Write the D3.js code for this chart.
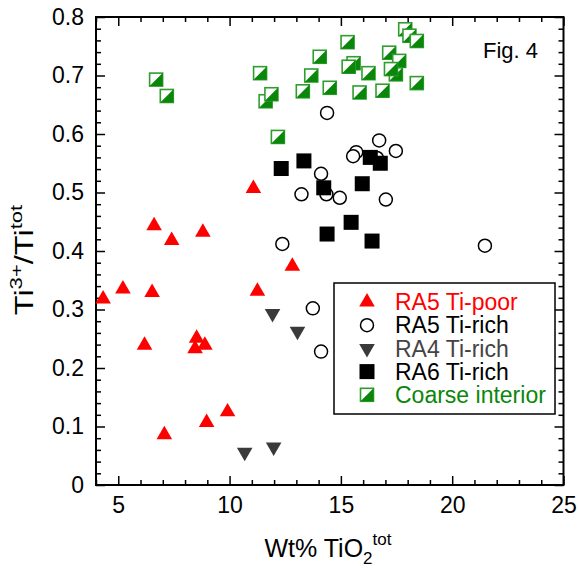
<!DOCTYPE html>
<html>
<head>
<meta charset="utf-8">
<script src="https://cdn.jsdelivr.net/npm/d3@7"></script>
<style>
  body { margin: 0; background: #fff; }
  svg text { font-family: "Liberation Sans", Arial, Helvetica, sans-serif; }
</style>
</head>
<body>
<svg width="578" height="570"></svg>
<script>
// data: [TiO2 wt%, Ti3+/Ti]
var ra5Poor = [[4.32,0.318],[5.21,0.335],[6.61,0.443],[7.40,0.418],[8.80,0.432],[11.07,0.507],
  [6.52,0.329],[11.25,0.331],[12.82,0.374],[6.18,0.239],[8.52,0.251],[8.45,0.233],[8.89,0.239],
  [7.07,0.086],[8.97,0.107],[9.91,0.125]];
var ra5Rich = [[14.38,0.636],[16.72,0.589],[17.47,0.571],[15.69,0.569],[15.55,0.562],[16.62,0.559],
  [14.11,0.532],[13.23,0.497],[14.35,0.497],[14.95,0.491],[17.02,0.488],[12.37,0.412],
  [21.47,0.409],[13.74,0.302],[14.11,0.228]];
var ra4Rich = [[10.68,0.056],[11.98,0.065],[11.93,0.293],[13.05,0.263]];
var ra6Rich = [[12.32,0.541],[13.34,0.554],[16.32,0.560],[16.77,0.550],[14.23,0.508],[15.96,0.515],
  [15.46,0.449],[14.38,0.429],[16.40,0.417]];
var coarse = [[6.70,0.693],[7.18,0.665],[11.37,0.704],[11.62,0.656],[11.88,0.668],[12.17,0.595],
  [13.29,0.673],[13.67,0.700],[14.05,0.732],[14.50,0.679],[15.30,0.757],[15.57,0.721],[15.35,0.715],
  [16.24,0.704],[15.84,0.671],[16.87,0.674],[17.17,0.739],[17.62,0.725],[17.47,0.702],[17.25,0.711],
  [17.89,0.779],[18.08,0.768],[18.41,0.759],[18.41,0.687]];

var xMajor = [5, 10, 15, 20, 25];
var yMajor = [0, 0.1, 0.2, 0.3, 0.4, 0.5, 0.6, 0.7, 0.8];
var legendLabels = ["RA5 Ti-poor", "RA5 Ti-rich", "RA4 Ti-rich", "RA6 Ti-rich", "Coarse interior"];

var red = "#ff0000", grey = "#3a3a3a", green = "#0a870a", greenEdge = "#2f9e2f";
var legendColors = [red, "#000", "#444", "#000", green];

// frame edges (top is reserved in browsers, so use pTop etc)
var pLeft = 96, pRight = 563.5, pTop = 17, pBottom = 485;

var svg = d3.select("svg");

var x = d3.scaleLinear().domain([4, 25]).range([pLeft, pRight]);
var y = d3.scaleLinear().domain([0, 0.8]).range([pBottom, pTop]);

var xMinor = d3.range(4, 26).filter(function(d) { return d % 5 != 0; });
var yMinor = d3.range(0, 41).map(function(i) { return i / 50; }).filter(function(d, i) { return i % 5 != 0; });

// ticks on all four sides, pointing in
function ticks(axis, vals, size, pos, labels) {
  var g = svg.append("g").attr("transform", pos)
    .call(axis.tickValues(vals).tickSize(-size).tickSizeOuter(0).tickPadding(12)
      .tickFormat(labels ? d3.format("") : ""));
  g.select(".domain").remove();
  g.selectAll("line").attr("stroke", "#000").attr("stroke-width", 1.5);
  g.selectAll("text").attr("font-size", 23).attr("fill", "#000").attr("font-family", null);
  return g;
}
ticks(d3.axisBottom(x), xMajor, 9, "translate(0," + pBottom + ")", true);
ticks(d3.axisBottom(x), xMinor, 5, "translate(0," + pBottom + ")", false);
ticks(d3.axisTop(x), xMajor, 9, "translate(0," + pTop + ")", false);
ticks(d3.axisTop(x), xMinor, 5, "translate(0," + pTop + ")", false);
ticks(d3.axisLeft(y), yMajor, 9, "translate(" + pLeft + ",0)", true);
ticks(d3.axisLeft(y), yMinor, 5, "translate(" + pLeft + ",0)", false);
ticks(d3.axisRight(y), yMajor, 9, "translate(" + pRight + ",0)", false);
ticks(d3.axisRight(y), yMinor, 5, "translate(" + pRight + ",0)", false);

svg.append("rect")
  .attr("x", pLeft).attr("y", pTop)
  .attr("width", pRight - pLeft).attr("height", pBottom - pTop)
  .attr("fill", "none").attr("stroke", "#000").attr("stroke-width", 2);

// marker drawing helpers
var upTri = d3.symbol().type(d3.symbolTriangle).size(105);
function drawUp(g, cx, cy) {
  g.append("path").attr("d", upTri()).attr("transform", "translate(" + cx + "," + cy + ")").attr("fill", red);
}
function drawDown(g, cx, cy) {
  g.append("path").attr("d", upTri()).attr("transform", "translate(" + cx + "," + cy + ") rotate(180)").attr("fill", grey);
}
function drawCircle(g, cx, cy) {
  g.append("circle").attr("cx", cx).attr("cy", cy).attr("r", 6.5)
    .attr("fill", "#fff").attr("stroke", "#000").attr("stroke-width", 1.5);
}
function drawSquare(g, cx, cy) {
  g.append("rect").attr("x", cx - 7.5).attr("y", cy - 7.5).attr("width", 15).attr("height", 15).attr("fill", "#000");
}
function drawHalf(g, cx, cy) {
  var s = 6.5;
  g.append("rect").attr("x", cx - s).attr("y", cy - s).attr("width", 2 * s).attr("height", 2 * s)
    .attr("fill", "#fff").attr("stroke", greenEdge).attr("stroke-width", 1.6);
  g.append("path").attr("d", "M" + (cx - s) + "," + (cy + s) + "L" + (cx + s) + "," + (cy - s) + "L" + (cx + s) + "," + (cy + s) + "Z")
    .attr("fill", green);
}

var plot = svg.append("g");
coarse.forEach(function(d) { drawHalf(plot, x(d[0]), y(d[1])); });
ra5Rich.forEach(function(d) { drawCircle(plot, x(d[0]), y(d[1])); });
ra6Rich.forEach(function(d) { drawSquare(plot, x(d[0]), y(d[1])); });
ra4Rich.forEach(function(d) { drawDown(plot, x(d[0]), y(d[1])); });
ra5Poor.forEach(function(d) { drawUp(plot, x(d[0]), y(d[1])); });

// legend
var lg = svg.append("g");
lg.append("rect").attr("x", 334).attr("y", 283).attr("width", 221).attr("height", 131)
  .attr("fill", "#fff").attr("stroke", "#000").attr("stroke-width", 1.5);
var drawers = [drawUp, drawCircle, drawDown, drawSquare, drawHalf];
legendLabels.forEach(function(lab, i) {
  var ly = 302 + i * 23.2;
  drawers[i](lg, 367, ly);
  lg.append("text").attr("x", 395).attr("y", ly).attr("dy", "0.36em")
    .attr("font-size", 23).attr("fill", legendColors[i]).text(lab);
});

svg.append("text").attr("x", 483).attr("y", 58).attr("font-size", 22).text("Fig. 4");

// axis titles
var xt = svg.append("text").attr("x", 328).attr("y", 557).attr("text-anchor", "middle").attr("font-size", 25);
xt.append("tspan").text("Wt% TiO");
xt.append("tspan").attr("dy", 7).attr("font-size", 17).text("2");
xt.append("tspan").attr("dy", -19).attr("font-size", 17).text("tot");

// the y title is drawn a bit stretched along its baseline, as in the figure
var yt = svg.append("text").attr("transform", "translate(33,260) rotate(-90) scale(1.3,1)")
  .attr("text-anchor", "middle").attr("font-size", 25);
yt.append("tspan").text("Ti");
yt.append("tspan").attr("dy", -11).attr("font-size", 17).text("3+");
yt.append("tspan").attr("dy", 11).text("/Ti");
yt.append("tspan").attr("dy", -11).attr("font-size", 17).text("tot");
</script>
</body>
</html>
